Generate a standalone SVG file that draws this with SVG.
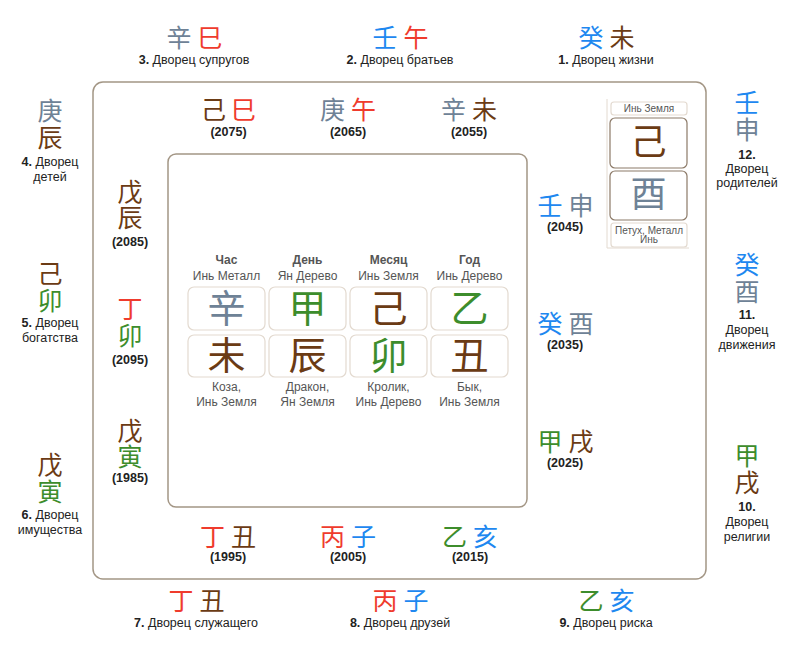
<svg xmlns="http://www.w3.org/2000/svg" width="800" height="672" viewBox="0 0 800 672">
<style>
.c{font-family:"Noto Sans CJK SC","Noto Sans CJK JP",sans-serif;font-size:25px;text-anchor:middle}
.big{font-size:38px}
.mid{font-size:36px}
.metal{fill:#6e8296}
.fire{fill:#ef3b2d}
.water{fill:#1e88f0}
.earth{fill:#6b3b14}
.wood{fill:#3d8d2c}
.lbl{font-family:"Liberation Sans",Arial,sans-serif;font-size:12.5px;fill:#222;text-anchor:middle}
.b{font-weight:bold}
.pl{font-family:"Liberation Sans",Arial,sans-serif;font-size:12px;fill:#555;text-anchor:middle}
.sm{font-family:"Liberation Sans",Arial,sans-serif;font-size:10px;fill:#555;text-anchor:middle}
.frame{fill:none;stroke:#a39685;stroke-width:1.5}
.box{fill:#fff;stroke:#e3dad0;stroke-width:1.2}
.dbox{fill:#fff;stroke:#8c7a68;stroke-width:1.2}
.thin{fill:none;stroke:#e3dad0;stroke-width:1}
</style>
<rect width="800" height="672" fill="#fff"/>
<g id="frames">
<rect class="frame" x="93" y="82" width="613" height="497" rx="10"/>
<rect class="frame" x="168" y="154" width="359" height="353" rx="8"/>
</g>

<!-- outer top -->
<g id="palace-3"><text class="c metal" x="179" y="47">辛</text><text class="c fire" x="210" y="47">巳</text>
<text class="lbl" x="194" y="64"><tspan class="b">3.</tspan> Дворец супругов</text></g>
<g id="palace-2"><text class="c water" x="385" y="47">壬</text><text class="c fire" x="416" y="47">午</text>
<text class="lbl" x="400" y="64"><tspan class="b">2.</tspan> Дворец братьев</text></g>
<g id="palace-1"><text class="c water" x="591" y="47">癸</text><text class="c earth" x="622" y="47">未</text>
<text class="lbl" x="606" y="64"><tspan class="b">1.</tspan> Дворец жизни</text></g>

<!-- outer left -->
<g id="palace-4"><text class="c metal" x="50" y="120">庚</text><text class="c earth" x="50" y="147">辰</text>
<text class="lbl" x="50" y="166"><tspan class="b">4.</tspan> Дворец</text><text class="lbl" x="50" y="181">детей</text></g>
<g id="palace-5"><text class="c earth" x="50" y="283">己</text><text class="c wood" x="50" y="310">卯</text>
<text class="lbl" x="50" y="327"><tspan class="b">5.</tspan> Дворец</text><text class="lbl" x="50" y="342">богатства</text></g>
<g id="palace-6"><text class="c earth" x="50" y="474">戊</text><text class="c wood" x="50" y="501">寅</text>
<text class="lbl" x="50" y="519"><tspan class="b">6.</tspan> Дворец</text><text class="lbl" x="50" y="534">имущества</text></g>

<!-- outer bottom -->
<g id="palace-7"><text class="c fire" x="181" y="610">丁</text><text class="c earth" x="212" y="610">丑</text>
<text class="lbl" x="196" y="627"><tspan class="b">7.</tspan> Дворец служащего</text></g>
<g id="palace-8"><text class="c fire" x="385" y="610">丙</text><text class="c water" x="416" y="610">子</text>
<text class="lbl" x="400" y="627"><tspan class="b">8.</tspan> Дворец друзей</text></g>
<g id="palace-9"><text class="c wood" x="591" y="610">乙</text><text class="c water" x="622" y="610">亥</text>
<text class="lbl" x="606" y="627"><tspan class="b">9.</tspan> Дворец риска</text></g>

<!-- outer right -->
<g id="palace-12"><text class="c water" x="747" y="112">壬</text><text class="c metal" x="747" y="139">申</text>
<text class="lbl b" x="747" y="159">12.</text><text class="lbl" x="747" y="173">Дворец</text><text class="lbl" x="747" y="187">родителей</text></g>
<g id="palace-11"><text class="c water" x="747" y="274">癸</text><text class="c metal" x="747" y="301">酉</text>
<text class="lbl b" x="747" y="319">11.</text><text class="lbl" x="747" y="334">Дворец</text><text class="lbl" x="747" y="349">движения</text></g>
<g id="palace-10"><text class="c wood" x="747" y="465">甲</text><text class="c earth" x="747" y="492">戌</text>
<text class="lbl b" x="747" y="511">10.</text><text class="lbl" x="747" y="526">Дворец</text><text class="lbl" x="747" y="541">религии</text></g>

<!-- inner top -->
<g id="luck-2075"><text class="c earth" x="213.5" y="119">己</text><text class="c fire" x="243.5" y="119">巳</text>
<text class="lbl b" x="228.5" y="136">(2075)</text></g>
<g id="luck-2065"><text class="c metal" x="332.5" y="119">庚</text><text class="c fire" x="363.5" y="119">午</text>
<text class="lbl b" x="348" y="136">(2065)</text></g>
<g id="luck-2055"><text class="c metal" x="453.5" y="119">辛</text><text class="c earth" x="484.5" y="119">未</text>
<text class="lbl b" x="469" y="136">(2055)</text></g>

<!-- inner left -->
<g id="luck-2085"><text class="c earth" x="130" y="201">戊</text><text class="c earth" x="130" y="227">辰</text>
<text class="lbl b" x="130" y="246">(2085)</text></g>
<g id="luck-2095"><text class="c fire" x="130" y="318">丁</text><text class="c wood" x="130" y="345">卯</text>
<text class="lbl b" x="130" y="364">(2095)</text></g>
<g id="luck-1985"><text class="c earth" x="130" y="440">戊</text><text class="c wood" x="130" y="466">寅</text>
<text class="lbl b" x="130" y="482">(1985)</text></g>

<!-- inner bottom -->
<g id="luck-1995"><text class="c fire" x="212.5" y="546">丁</text><text class="c earth" x="243.5" y="546">丑</text>
<text class="lbl b" x="228" y="561">(1995)</text></g>
<g id="luck-2005"><text class="c fire" x="332.5" y="546">丙</text><text class="c water" x="363.5" y="546">子</text>
<text class="lbl b" x="348" y="561">(2005)</text></g>
<g id="luck-2015"><text class="c wood" x="454.5" y="546">乙</text><text class="c water" x="485.5" y="546">亥</text>
<text class="lbl b" x="470" y="561">(2015)</text></g>

<!-- inner right -->
<g id="luck-2045"><text class="c water" x="550" y="215">壬</text><text class="c metal" x="581" y="215">申</text>
<text class="lbl b" x="565" y="231">(2045)</text></g>
<g id="luck-2035"><text class="c water" x="550" y="333">癸</text><text class="c metal" x="581" y="333">酉</text>
<text class="lbl b" x="565" y="349">(2035)</text></g>
<g id="luck-2025"><text class="c wood" x="550" y="451">甲</text><text class="c earth" x="581" y="451">戌</text>
<text class="lbl b" x="565" y="467">(2025)</text></g>

<!-- current luck pillar box -->
<g id="current-pillar">
<line class="thin" x1="607" y1="99" x2="607" y2="248"/>
<line class="thin" x1="607" y1="248" x2="689" y2="248"/>
<rect class="box" x="611" y="102" width="76" height="13" rx="3"/>
<text class="sm" x="649" y="112">Инь Земля</text>
<rect class="dbox" x="610" y="118" width="77" height="50" rx="5"/>
<text class="c mid earth" x="648.5" y="155">己</text>
<rect class="dbox" x="610" y="171" width="77" height="49" rx="5"/>
<text class="c mid metal" x="648.5" y="207">酉</text>
<rect class="box" x="611" y="223" width="76" height="24" rx="3"/>
<text class="sm" x="649" y="234">Петух, Металл</text>
<text class="sm" x="649" y="243">Инь</text>
</g>

<!-- four pillars -->
<g id="pillar-hour">
<text class="pl b" x="226.5" y="264">Час</text><text class="pl" x="226.5" y="280">Инь Металл</text>
<rect class="box" x="188" y="287" width="77" height="43" rx="6"/><text class="c big metal" x="226.5" y="322">辛</text>
<rect class="box" x="188" y="335" width="77" height="42" rx="6"/><text class="c big earth" x="226.5" y="369">未</text>
<text class="pl" x="226.5" y="391">Коза,</text><text class="pl" x="226.5" y="406">Инь Земля</text>
</g>
<g id="pillar-day">
<text class="pl b" x="307.5" y="264">День</text><text class="pl" x="307.5" y="280">Ян Дерево</text>
<rect class="box" x="269" y="287" width="77" height="43" rx="6"/><text class="c big wood" x="307.5" y="322">甲</text>
<rect class="box" x="269" y="335" width="77" height="42" rx="6"/><text class="c big earth" x="307.5" y="369">辰</text>
<text class="pl" x="307.5" y="391">Дракон,</text><text class="pl" x="307.5" y="406">Ян Земля</text>
</g>
<g id="pillar-month">
<text class="pl b" x="388.5" y="264">Месяц</text><text class="pl" x="388.5" y="280">Инь Земля</text>
<rect class="box" x="350" y="287" width="77" height="43" rx="6"/><text class="c big earth" x="388.5" y="322">己</text>
<rect class="box" x="350" y="335" width="77" height="42" rx="6"/><text class="c big wood" x="388.5" y="369">卯</text>
<text class="pl" x="388.5" y="391">Кролик,</text><text class="pl" x="388.5" y="406">Инь Дерево</text>
</g>
<g id="pillar-year">
<text class="pl b" x="469.5" y="264">Год</text><text class="pl" x="469.5" y="280">Инь Дерево</text>
<rect class="box" x="431" y="287" width="77" height="43" rx="6"/><text class="c big wood" x="469.5" y="322">乙</text>
<rect class="box" x="431" y="335" width="77" height="42" rx="6"/><text class="c big earth" x="469.5" y="369">丑</text>
<text class="pl" x="469.5" y="391">Бык,</text><text class="pl" x="469.5" y="406">Инь Земля</text>
</g>
</svg>
